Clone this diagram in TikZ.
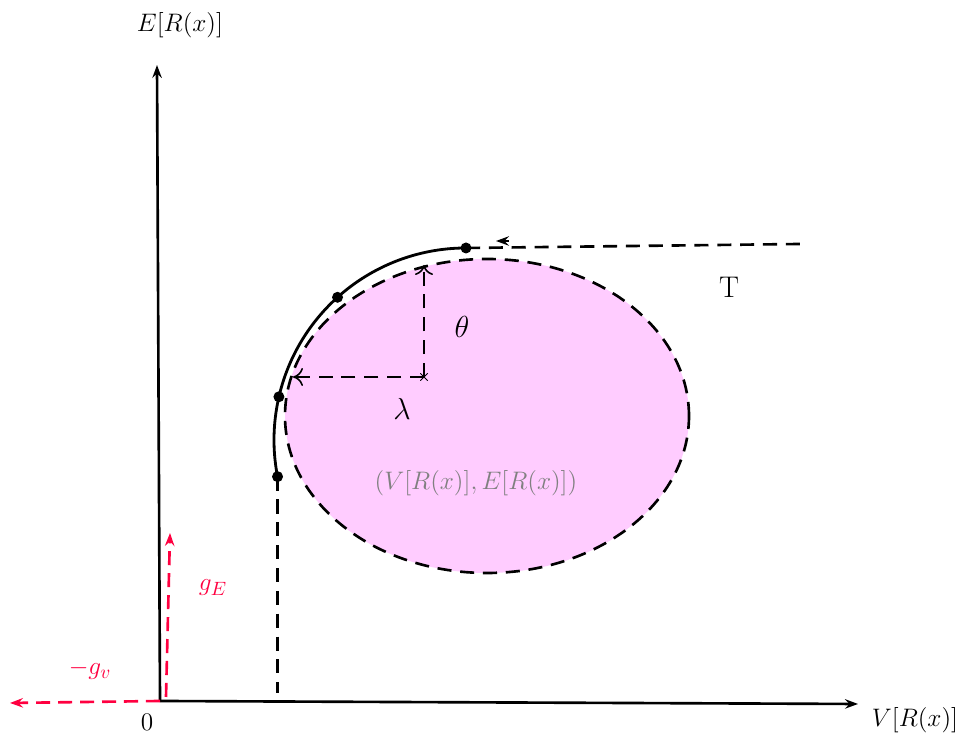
\documentclass[tikz,border=0pt]{standalone}
\usepackage{tikz}
\usepackage{amsmath}
\usetikzlibrary{arrows.meta, positioning, calc, shapes.misc}
\definecolor{gainred}{HTML}{FF0040}
\definecolor{setpink}{HTML}{FFCCFF}
\definecolor{setgray}{HTML}{808080}

\begin{document}
\begin{tikzpicture}[
    font=\fontsize{15}{18}\selectfont,
    tip/.style={-{Stealth[length=2.6mm, width=1.9mm, inset=0.9mm]}},
    axis/.style={tip, line width=1.5pt},
    dashline/.style={line width=1.5pt, dash pattern=on 8pt off 5pt},
    dasharrow/.style={-{To[line width=0.9pt, length=2mm, width=3.6mm]}, line width=1.5pt, dash pattern=on 8pt off 5pt},
    gainarrow/.style={tip, line width=1.5pt, dash pattern=on 8pt off 4.5pt, draw=gainred},
    frontier/.style={line width=1.6pt},
    dot/.style={circle, fill=black, inner sep=0pt, minimum size=0.22cm},
    centre/.style={cross out, draw, line width=0.5pt, inner sep=0pt, minimum size=0.13cm}
]
\useasboundingbox (0,0) rectangle (19.24,14.76);

% Coordinates
\coordinate (origin) at (3.20,0.74);
\coordinate (xend) at (17.16,0.68);
\coordinate (yend) at (3.14,13.46);
\coordinate (arcc) at (9.32,5.96);
\coordinate (p1) at ($(arcc)+(191:3.84)$);
\coordinate (p2) at ($(arcc)+(167:3.84)$);
\coordinate (p3) at ($(arcc)+(132:3.84)$);
\coordinate (p4) at ($(arcc)+(90:3.84)$);
\coordinate (foot) at ($(p1|-origin)+(0,0.16)$);
\coordinate (tend) at (16.00,9.88);
\coordinate (thetaend) at (8.48,9.46);
\coordinate (lambdaend) at (5.86,7.22);
\coordinate (gvend) at (0.20,0.70);
\coordinate (gEstart) at (3.32,0.82);
\coordinate (gEend) at (3.40,4.10);

% Set
\draw[dashline, fill=setpink] (9.74,6.44) ellipse [x radius=4.04, y radius=3.14];
\node[centre] (mu) at (8.48,7.22) {};

% Axes
\draw[axis] (origin) -- (xend);
\draw[axis] (origin) -- (yend);

% Arrows
\draw[dasharrow] (mu.center) -- (thetaend);
\draw[dasharrow] (mu.center) -- (lambdaend);
\draw[frontier] (p4) arc[start angle=90, end angle=191, radius=3.84];
\draw[dashline] (p1) -- (foot);
\draw[dashline] (p4) -- (tend);
\draw[tip, line width=1pt] (10.18,9.94) -- (9.92,9.94);
\draw[gainarrow] (origin) -- (gvend);
\draw[gainarrow] (gEstart) -- (gEend);

% Nodes
\node[dot] (d1) at (p1) {};
\node[dot] (d2) at (p2) {};
\node[dot] (d3) at (p3) {};
\node[dot] (d4) at (p4) {};

\node (ylabel) at (3.60,14.26) {$E[R(x)]$};
\node (xlabel) at (18.30,0.36) {$V[R(x)]$};
\node[font=\fontsize{14}{17}\selectfont] (zero) at (2.94,0.32) {$\mathrm{0}$};
\node[font=\fontsize{17}{20}\selectfont] (theta) at (9.24,8.22) {$\theta$};
\node[font=\fontsize{17}{20}\selectfont] (lambda) at (8.04,6.58) {$\lambda$};
\node[text=setgray] (mean) at (9.52,5.10) {$(V[R(x)],E[R(x)])$};
\node[font=\fontsize{17}{20}\selectfont] (tlabel) at (14.58,9.02) {T};
\node[text=gainred] (gv) at (1.80,1.36) {$-g_v$};
\node[text=gainred] (gE) at (4.26,3.00) {$g_E$};

\end{tikzpicture}
\end{document}
